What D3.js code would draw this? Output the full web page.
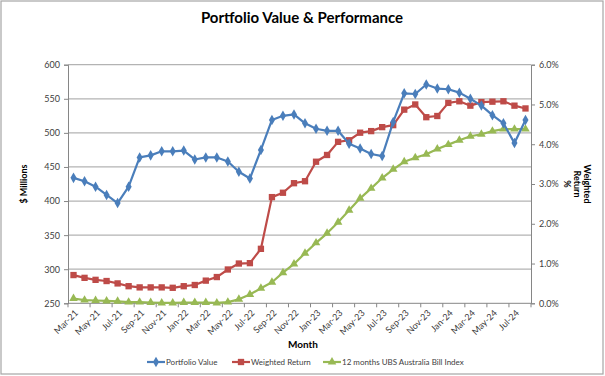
<!DOCTYPE html>
<html><head><meta charset="utf-8">
<script src="https://cdn.jsdelivr.net/npm/d3@7"></script>
<style>
body{margin:0;background:#fff;}
svg{font-family:Lato,"Open Sans",sans-serif;}
</style></head>
<body><svg id="c" width="605" height="376"></svg>
<script>
const months = ["Mar-21","Apr-21","May-21","Jun-21","Jul-21","Aug-21","Sep-21","Oct-21","Nov-21","Dec-21",
"Jan-22","Feb-22","Mar-22","Apr-22","May-22","Jun-22","Jul-22","Aug-22","Sep-22","Oct-22","Nov-22","Dec-22",
"Jan-23","Feb-23","Mar-23","Apr-23","May-23","Jun-23","Jul-23","Aug-23","Sep-23","Oct-23","Nov-23","Dec-23",
"Jan-24","Feb-24","Mar-24","Apr-24","May-24","Jun-24","Jul-24","Aug-24"];
const portfolioValue = [434,429,421,409,397,421,464,467,473,473,
474,461,464,464,458,443,433,475,519,525,527,514,
506,503,503,484,477,469,466,516,558,557,571,565,
564,559,550,540,526,514,485,519];
const weightedReturn = [0.71,0.64,0.59,0.56,0.50,0.43,0.40,0.40,0.40,0.39,
0.43,0.46,0.57,0.66,0.85,1.00,1.01,1.37,2.67,2.78,3.02,3.07,
3.56,3.73,4.06,4.10,4.29,4.33,4.43,4.48,4.87,5.00,4.68,4.71,
5.04,5.08,4.97,5.06,5.07,5.08,4.97,4.90];
const ubsBillIndex = [0.12,0.08,0.07,0.06,0.05,0.03,0.03,0.02,0.01,0.01,
0.02,0.02,0.02,0.01,0.03,0.10,0.22,0.38,0.53,0.77,0.99,1.26,
1.52,1.76,2.04,2.34,2.64,2.89,3.15,3.37,3.56,3.66,3.75,3.88,
3.99,4.10,4.20,4.25,4.33,4.38,4.38,4.38];
const leftTicks = [250,300,350,400,450,500,550,600];
const rightTicks = [0,1,2,3,4,5,6];
const seriesNames = ["Portfolio Value","Weighted Return","12 months UBS Australia Bill Index"];
const colors = ["#4A7EBB","#BE4B48","#98B954"];

const svg = d3.select("#c");
const L=68, R=531, T=64.7, B=303.3;
const tickFont = "'Liberation Sans Narrow',Lato,sans-serif";

svg.append("rect").attr("x",1).attr("y",1).attr("width",602).attr("height",373)
  .attr("fill","#fff").attr("stroke","#A6A6A6").attr("stroke-width",1.2);

const x = d3.scaleBand().domain(months).range([L,R]).paddingInner(0).paddingOuter(0);
const yL = d3.scaleLinear().domain([250,600]).range([B,T]);
const yR = d3.scaleLinear().domain([0,6]).range([B,T]);
const cx = d => x(d)+x.bandwidth()/2;

// gridlines
svg.append("g").selectAll("line").data(leftTicks.slice(1)).join("line")
  .attr("x1",L).attr("x2",R).attr("y1",d=>yL(d)).attr("y2",d=>yL(d))
  .attr("stroke","#B3B3B3").attr("stroke-width",1.2);

// left axis
const gl = svg.append("g").attr("transform",`translate(${L},0)`)
  .call(d3.axisLeft(yL).tickValues(leftTicks).tickSize(4).tickPadding(4));
gl.select(".domain").attr("stroke","#868686");
gl.selectAll(".tick line").attr("stroke","#868686");
gl.selectAll("text").attr("font-size",9).attr("fill","#404040").attr("font-family",tickFont);

// right axis
const gr = svg.append("g").attr("transform",`translate(${R},0)`)
  .call(d3.axisRight(yR).tickValues(rightTicks).tickFormat(d=>d.toFixed(1)+"%").tickSize(4).tickPadding(4));
gr.select(".domain").attr("stroke","#868686");
gr.selectAll(".tick line").attr("stroke","#868686");
gr.selectAll("text").attr("font-size",9).attr("fill","#404040").attr("font-family",tickFont);

// bottom axis
const gb = svg.append("g").attr("transform",`translate(0,${B})`);
gb.append("line").attr("x1",L).attr("x2",R).attr("stroke","#868686");
const tickIdx = months.map((m,i)=>i).filter(i=>i%2===0);
gb.selectAll("line.tk").data(tickIdx.concat([months.length])).join("line").attr("class","tk")
  .attr("x1",i=> i<months.length ? x(months[i]) : R).attr("x2",i=> i<months.length ? x(months[i]) : R)
  .attr("y1",0).attr("y2",4).attr("stroke","#868686");
gb.selectAll("text").data(tickIdx.map(i=>months[i])).join("text")
  .attr("transform",d=>`translate(${cx(d)+3},8) rotate(-45)`)
  .attr("text-anchor","end").attr("dy","0.35em").attr("font-family",tickFont)
  .attr("font-size",9).attr("fill","#404040").text(d=>d);

// axis titles
svg.append("text").attr("x",302).attr("y",23).attr("text-anchor","middle")
  .attr("font-size",15).attr("font-weight","bold").attr("fill","#000").text("Portfolio Value & Performance");
svg.append("text").attr("transform",`translate(27,184) rotate(-90)`).attr("text-anchor","middle")
  .attr("font-size",9).attr("font-weight","bold").text("$ Millions");
const rt = svg.append("text").attr("transform",`translate(577,184) rotate(90)`).attr("text-anchor","middle")
  .attr("font-size",9).attr("font-weight","bold");
["Weighted","Return","%"].forEach((s,i)=>rt.append("tspan").attr("x",0).attr("dy", i===0 ? "-0.8em" : "1.15em").text(s));
svg.append("text").attr("x",303).attr("y",348).attr("text-anchor","middle")
  .attr("font-size",10).attr("font-weight","bold").text("Month");

// series
const lineL = d3.line().x((d,i)=>cx(months[i])).y(d=>yL(d));
const lineR = d3.line().x((d,i)=>cx(months[i])).y(d=>yR(d));
const datasets = [
  {v:portfolioValue, line:lineL, y:yL, sym:d3.symbolDiamond, size:32},
  {v:weightedReturn, line:lineR, y:yR, sym:d3.symbolSquare, size:40},
  {v:ubsBillIndex, line:lineR, y:yR, sym:d3.symbolTriangle, size:32}
];
[2,1,0].forEach(k=>{
  const ds = datasets[k];
  svg.append("path").datum(ds.v).attr("d",ds.line).attr("fill","none")
    .attr("stroke",colors[k]).attr("stroke-width",2.2).attr("stroke-linejoin","round");
  svg.append("g").selectAll("path").data(ds.v).join("path")
    .attr("transform",(d,i)=>`translate(${cx(months[i])},${ds.y(d)})`)
    .attr("d",d3.symbol().type(ds.sym).size(ds.size)).attr("fill",colors[k]);
});

// legend
const legX = [147,232,323];
const lg = svg.append("g").attr("transform","translate(0,362)");
seriesNames.forEach((n,k)=>{
  const g = lg.append("g").attr("transform",`translate(${legX[k]},0)`);
  g.append("line").attr("x1",0).attr("x2",18).attr("stroke",colors[k]).attr("stroke-width",2.2);
  g.append("path").attr("transform","translate(9,0)")
    .attr("d",d3.symbol().type(datasets[k].sym).size(datasets[k].size)).attr("fill",colors[k]);
  g.append("text").attr("x",19).attr("dy","0.35em").attr("font-size",8).attr("font-family",tickFont)
    .attr("fill","#404040").text(n);
});
</script></body></html>
